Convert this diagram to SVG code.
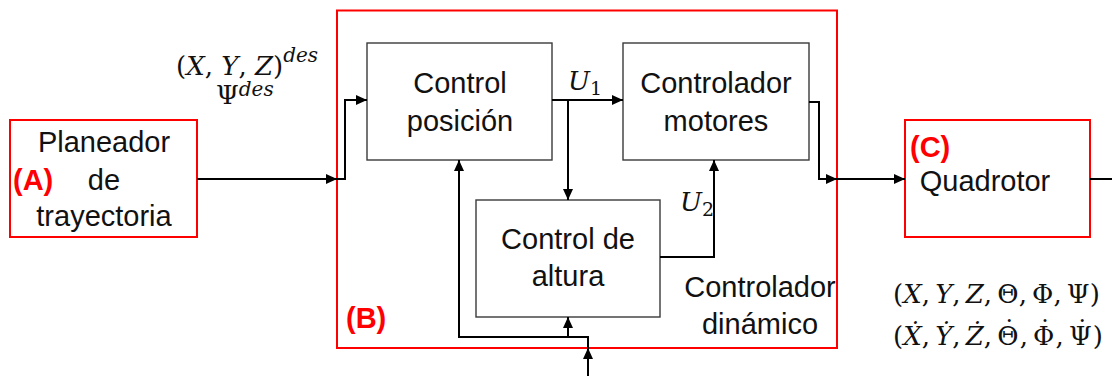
<svg xmlns="http://www.w3.org/2000/svg" width="1112" height="376" viewBox="0 0 1112 376">
<style>
.red{fill:#fff;stroke:#ff0000;stroke-width:2}
.blk{fill:#fff;stroke:#3a3a3a;stroke-width:1.4}
.lbl{font-family:"Liberation Sans",Arial,sans-serif;font-size:29px;fill:#111;text-anchor:middle}
.tag{font-family:"Liberation Sans",Arial,sans-serif;font-size:29px;font-weight:bold;fill:#ff0000}
.m{font-family:"DejaVu Serif","Liberation Serif",serif;font-size:26px;fill:#111}
.i{font-style:italic}
.c{fill:none;stroke:#000;stroke-width:2}
</style>
<defs>
<marker id="ah" markerUnits="userSpaceOnUse" markerWidth="11" markerHeight="10" refX="11" refY="5" orient="auto">
<path d="M0,0 L11,5 L0,10 z" fill="#000"/>
</marker>
</defs>
<g id="B">
<rect class="red" x="337" y="10.5" width="500" height="337.5"/>
<text class="tag" x="346" y="328">(B)</text>
<text class="lbl" x="760" y="297">Controlador</text>
<text class="lbl" x="760" y="334">dinámico</text>
</g>
<g id="A">
<rect class="red" x="10" y="120" width="187" height="117"/>
<text class="lbl" x="104" y="152">Planeador</text>
<text class="lbl" x="104" y="190">de</text>
<text class="lbl" x="104" y="226">trayectoria</text>
<text class="tag" x="13" y="190">(A)</text>
</g>
<g id="C">
<rect class="red" x="905" y="120" width="185" height="117"/>
<text class="lbl" x="985" y="191">Quadrotor</text>
<text class="tag" x="910" y="157">(C)</text>
</g>
<g id="controlPosicion">
<rect class="blk" x="367" y="43" width="185" height="117"/>
<text class="lbl" x="460" y="93">Control</text>
<text class="lbl" x="460" y="131">posición</text>
</g>
<g id="controladorMotores">
<rect class="blk" x="623" y="43" width="186" height="117"/>
<text class="lbl" x="716" y="93">Controlador</text>
<text class="lbl" x="716" y="131">motores</text>
</g>
<g id="controlAltura">
<rect class="blk" x="476" y="200" width="184" height="117"/>
<text class="lbl" x="568" y="249">Control de</text>
<text class="lbl" x="568" y="286">altura</text>
</g>
<g id="connectors">
<path class="c" d="M197,179 H337" marker-end="url(#ah)"/>
<path class="c" d="M337,179 H345 V100 H367" marker-end="url(#ah)"/>
<path class="c" d="M552,100 H623" marker-end="url(#ah)"/>
<path class="c" d="M568,100 V200" marker-end="url(#ah)"/>
<path class="c" d="M660,257 H714 V160" marker-end="url(#ah)"/>
<path class="c" d="M809,102 H819 V179 H837" marker-end="url(#ah)"/>
<path class="c" d="M837,179 H905" marker-end="url(#ah)"/>
<path class="c" d="M1090,179 H1112"/>
<path class="c" d="M588,376 V348" marker-end="url(#ah)"/>
<path class="c" d="M588,348 V337 H459 V160" marker-end="url(#ah)"/>
<path class="c" d="M568,337 V317" marker-end="url(#ah)"/>
</g>
<g id="labels">
<text class="m" x="176" y="75">(<tspan class="i">X</tspan>, <tspan class="i">Y</tspan>, <tspan class="i">Z</tspan>)<tspan class="i" font-size="20" dy="-13">des</tspan></text>
<text class="m" x="216" y="104">Ψ<tspan class="i" font-size="20" dy="-8">des</tspan></text>
<text class="m" x="568" y="90" font-size="27"><tspan class="i">U</tspan><tspan font-size="19" dy="5">1</tspan></text>
<text class="m" x="680" y="211" font-size="27"><tspan class="i">U</tspan><tspan font-size="19" dy="5">2</tspan></text>
<text class="m" x="893" y="303" font-size="25">(<tspan class="i">X</tspan>,&#x2009;<tspan class="i">Y</tspan>,&#x2009;<tspan class="i">Z</tspan>,&#x2009;Θ,&#x2009;Φ,&#x2009;Ψ)</text>
<text class="m" x="893" y="345" font-size="25">(<tspan class="i">X&#x307;</tspan>,&#x2009;<tspan class="i">Y&#x307;</tspan>,&#x2009;<tspan class="i">Z&#x307;</tspan>,&#x2009;Θ<tspan dx="-16" dy="-6">˙</tspan><tspan dx="4" dy="6">,&#x2009;Φ</tspan><tspan dx="-16" dy="-6">˙</tspan><tspan dx="4" dy="6">,&#x2009;Ψ</tspan><tspan dx="-16" dy="-6">˙</tspan><tspan dx="4" dy="6">)</tspan></text>
</g>
</svg>
